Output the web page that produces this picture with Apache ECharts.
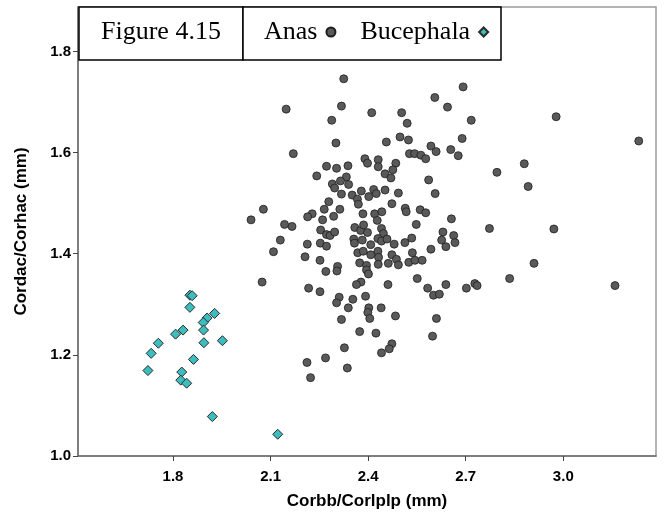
<!DOCTYPE html>
<html>
<head>
<meta charset="utf-8">
<script src="https://cdn.jsdelivr.net/npm/echarts@6/dist/echarts.min.js"></script>
<style>html,body{margin:0;padding:0;background:#fff}#c{width:664px;height:522px}</style>
</head>
<body>
<div id="c"></div>
<script>
var xTicks = [1.8, 2.1, 2.4, 2.7, 3.0];
var yTicks = [1.0, 1.2, 1.4, 1.6, 1.8];
var seriesNames = ['Anas', 'Bucephala'];

var anasX = [2.318,2.411,2.503,2.644,2.288,2.520,2.301,2.456,2.498,2.524,2.170,2.593,2.609,2.654,2.677,2.527,2.543,2.562,2.577,2.390,
2.398,2.431,2.431,2.485,2.476,2.452,2.470,2.272,2.303,2.338,2.242,2.333,2.315,2.290,2.297,2.340,2.586,2.318,2.351,2.379,
2.417,2.425,2.402,2.452,2.493,2.606,2.367,2.370,2.279,2.473,2.265,2.313,2.514,2.517,2.560,2.577,2.228,2.214,2.260,2.294,
2.384,2.420,2.442,2.428,2.656,2.548,2.166,2.254,2.272,2.283,2.297,2.359,2.377,2.386,2.398,2.441,2.447,2.630,2.663,2.213,
2.253,2.272,2.356,2.358,2.382,2.408,2.430,2.441,2.458,2.480,2.513,2.534,2.626,2.639,2.667,2.593,2.206,2.252,2.368,2.385,
2.408,2.430,2.432,2.473,2.487,2.536,2.525,2.544,2.566,2.374,2.395,2.431,2.462,2.493,2.306,2.270,2.304,2.395,2.401,2.378,
2.364,2.461,2.551,2.639,2.583,2.601,2.619,2.217,2.252,2.311,2.303,2.353,2.392,2.339,2.402,2.399,2.405,2.440,2.484,2.610,
2.318,2.374,2.424,2.598,2.473,2.465,2.327,
2.325,2.148,2.078,2.040,2.143,2.130,2.109,2.074,2.212,2.223,2.269,2.336,2.441,2.692,2.605,2.717,2.978,3.232,2.689,2.796,
2.880,2.892,2.773,2.971,2.910,2.835,3.159,2.728,2.735,2.702];
var anasY = [1.692,1.679,1.679,1.690,1.664,1.658,1.619,1.621,1.631,1.625,1.598,1.613,1.602,1.606,1.594,1.598,1.598,1.595,1.588,1.588,
1.579,1.586,1.572,1.579,1.566,1.558,1.550,1.573,1.569,1.574,1.554,1.552,1.544,1.538,1.530,1.537,1.546,1.518,1.516,1.524,
1.527,1.519,1.513,1.526,1.520,1.519,1.508,1.498,1.503,1.499,1.488,1.488,1.490,1.483,1.487,1.481,1.479,1.473,1.467,1.474,
1.479,1.479,1.483,1.466,1.469,1.458,1.454,1.447,1.438,1.436,1.443,1.452,1.446,1.457,1.442,1.450,1.440,1.443,1.436,1.419,
1.421,1.415,1.429,1.421,1.427,1.418,1.430,1.425,1.429,1.419,1.422,1.431,1.427,1.414,1.422,1.409,1.394,1.387,1.402,1.405,
1.398,1.405,1.393,1.398,1.389,1.402,1.383,1.387,1.387,1.382,1.377,1.379,1.381,1.378,1.375,1.365,1.366,1.368,1.360,1.344,
1.339,1.339,1.351,1.339,1.332,1.318,1.320,1.332,1.325,1.314,1.303,1.310,1.316,1.293,1.293,1.284,1.272,1.293,1.277,1.272,
1.270,1.246,1.243,1.237,1.222,1.212,1.214,
1.746,1.686,1.488,1.467,1.458,1.427,1.404,1.344,1.185,1.155,1.194,1.174,1.204,1.730,1.709,1.664,1.671,1.623,1.628,1.561,
1.578,1.533,1.450,1.449,1.381,1.351,1.337,1.341,1.337,1.332];

var bucX = [1.852,1.859,1.852,1.928,1.905,1.893,1.894,1.831,1.808,1.755,1.895,1.952,1.733,1.863,1.723,1.827,1.824,1.842,1.921,2.122];
var bucY = [1.318,1.317,1.294,1.282,1.273,1.264,1.249,1.249,1.241,1.223,1.224,1.228,1.203,1.191,1.169,1.166,1.150,1.144,1.078,1.043];

function pairs(xs, ys) { return xs.map(function (v, i) { return [v, ys[i]]; }); }

var chart = echarts.init(document.getElementById('c'), null, {renderer: 'canvas'});
var axisFont = 'Liberation Sans, Arial, sans-serif';
var serif = 'Liberation Serif, Times New Roman, serif';

chart.setOption({
  animation: false,
  backgroundColor: '#fff',
  title: {
    text: 'Figure 4.15',
    left: 101, top: 17, padding: 0,
    textStyle: {fontFamily: serif, fontSize: 26, fontWeight: 'normal', color: '#000', lineHeight: 30}
  },
  legend: {
    data: seriesNames,
    left: 264, top: 17, padding: 0,
    align: 'right',
    itemWidth: 9, itemHeight: 9, itemGap: 24,
    textStyle: {fontFamily: serif, fontSize: 26, color: '#000', lineHeight: 30, padding: [0, 4, 0, 0]}
  },
  graphic: [
    {type: 'rect', z: 3, shape: {x: 79, y: 7, width: 164, height: 53}, style: {fill: '#fff', stroke: '#000', lineWidth: 1.5}},
    {type: 'rect', z: 3, shape: {x: 243, y: 7, width: 258, height: 53}, style: {fill: '#fff', stroke: '#000', lineWidth: 1.5}}
  ],
  grid: {left: 78, right: 8, top: 7, bottom: 66, show: true, borderColor: '#9a9a9a', borderWidth: 1.5, containLabel: false},
  xAxis: {
    type: 'value', min: 1.508, max: 3.285,
    name: 'Corbb/Corlplp (mm)', nameLocation: 'middle', nameGap: 37,
    nameTextStyle: {fontFamily: axisFont, fontSize: 17, fontWeight: 'bold', color: '#000'},
    axisLine: {show: true, lineStyle: {color: '#6d6d6d', width: 1.5}},
    axisTick: {show: true, length: 5, customValues: xTicks, lineStyle: {color: '#444', width: 1}},
    axisLabel: {customValues: xTicks, margin: 13, fontFamily: axisFont, fontSize: 15, fontWeight: 'bold', color: '#000',
      formatter: function (v) { return v.toFixed(1); }},
    splitLine: {show: false}
  },
  yAxis: {
    type: 'value', min: 1.0, max: 1.888,
    name: 'Cordac/Corhac (mm)', nameLocation: 'middle', nameGap: 48,
    nameTextStyle: {fontFamily: axisFont, fontSize: 17, fontWeight: 'bold', color: '#000'},
    axisLine: {show: true, lineStyle: {color: '#6d6d6d', width: 1.5}},
    axisTick: {show: true, length: 5, customValues: yTicks, lineStyle: {color: '#444', width: 1}},
    axisLabel: {customValues: yTicks, margin: 7, fontFamily: axisFont, fontSize: 15, fontWeight: 'bold', color: '#000',
      formatter: function (v) { return v.toFixed(1); }},
    splitLine: {show: false}
  },
  series: [
    {
      name: seriesNames[0], type: 'scatter', symbol: 'circle', symbolSize: 8,
      itemStyle: {color: '#5a5a5a', borderColor: '#1e1e1e', borderWidth: 0.8, opacity: 1},
      data: pairs(anasX, anasY)
    },
    {
      name: seriesNames[1], type: 'scatter', symbol: 'diamond', symbolSize: 10,
      itemStyle: {color: '#3dbdbd', borderColor: '#2a2a2a', borderWidth: 1, opacity: 1},
      data: pairs(bucX, bucY)
    }
  ]
});
</script>
</body>
</html>
